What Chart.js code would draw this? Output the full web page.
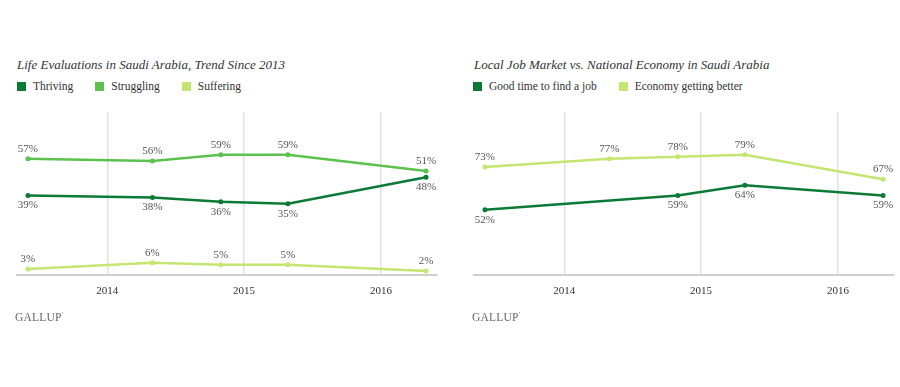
<!DOCTYPE html>
<html>
<head>
<meta charset="utf-8">
<script src="https://cdn.jsdelivr.net/npm/chart.js@4/dist/chart.umd.min.js"></script>
<style>
  body { margin: 0; background: #fff; width: 900px; height: 387px; overflow: hidden; position: relative; font-family: "Liberation Serif", serif; }
  .title { position: absolute; font-style: italic; font-size: 13px; color: #333; white-space: nowrap; }
  .legend { position: absolute; font-size: 11.5px; color: #333; white-space: nowrap; }
  .legend span.item { display: inline-block; margin-right: 22px; }
  .legend i { display: inline-block; width: 9px; height: 9px; margin-right: 7px; vertical-align: -1px; }
  .brand { position: absolute; font-size: 11.5px; color: #666; letter-spacing: 0.2px; }
  .wrap { position: absolute; top: 100px; width: 450px; height: 220px; }
</style>
</head>
<body>
<div class="title" style="left:17px; top:57px;">Life Evaluations in Saudi Arabia, Trend Since 2013</div>
<div class="legend" id="legendLeft" style="left:17px; top:80px;"></div>
<div class="wrap" style="left:0;"><canvas id="lifeChart"></canvas></div>
<div class="brand" style="left:15px; top:311px;">GALLUP<sup style="font-size:6px">&#8217;</sup></div>

<div class="title" style="left:474px; top:57px;">Local Job Market vs. National Economy in Saudi Arabia</div>
<div class="legend" id="legendRight" style="left:473px; top:80px;"></div>
<div class="wrap" style="left:450px;"><canvas id="jobChart"></canvas></div>
<div class="brand" style="left:472px; top:311px;">GALLUP<sup style="font-size:6px">&#8217;</sup></div>

<script>
// survey dates as fractional years
const surveyDates = [2013.42, 2014.33, 2014.83, 2015.32, 2016.33];
const yearTicks = [2014, 2015, 2016];

const thriving = [39, 38, 36, 35, 48];
const struggling = [57, 56, 59, 59, 51];
const suffering = [3, 6, 5, 5, 2];

const goodTimeJob = [52, null, 59, 64, 59];
const economyBetter = [73, 77, 78, 79, 67];

const DARK = "#0b7a36";
const MID = "#5cc14e";
const LIGHT = "#c3e670";

function points(values) {
    return values.map(function(v, i) {
        return {x: surveyDates[i], y: v};
    });
}

function line(label, values, color, place) {
    return {
        label: label,
        data: points(values),
        borderColor: color,
        backgroundColor: color,
        borderWidth: 2.5,
        pointRadius: 2.5,
        pointHoverRadius: 2.5,
        pointBorderWidth: 0,
        tension: 0,
        spanGaps: true,
        labelPlace: place
    };
}

// draws the "57%" style value labels next to each point
const valueLabels = {
    id: "valueLabels",
    afterDatasetsDraw(chart) {
        let ctx = chart.ctx;
        ctx.save();
        ctx.font = "11px 'Liberation Serif', serif";
        ctx.fillStyle = "#555";
        ctx.textAlign = "center";
        ctx.textBaseline = "middle";
        chart.data.datasets.forEach(function(ds, di) {
            let meta = chart.getDatasetMeta(di);
            meta.data.forEach(function(pt, i) {
                let v = ds.data[i].y;
                if (v === null || pt.skip) return;
                let dy = ds.labelPlace === "above" ? -10 : 10;
                ctx.fillText(v + "%", pt.x, pt.y + dy);
            });
        });
        ctx.restore();
    }
};

function buildLegend(id, datasets) {
    let el = document.getElementById(id);
    el.innerHTML = datasets.map(function(ds) {
        return '<span class="item"><i style="background:' + ds.borderColor + '"></i>' + ds.label + '</span>';
    }).join("");
}

function makeChart(canvasId, legendId, datasets, yMin, yMax, pad) {
    buildLegend(legendId, datasets);
    return new Chart(document.getElementById(canvasId), {
        type: "line",
        data: {datasets: datasets},
        plugins: [valueLabels],
        options: {
            responsive: true,
            maintainAspectRatio: false,
            animation: false,
            events: [],
            layout: {padding: pad},
            plugins: {
                legend: {display: false},
                title: {display: false},
                tooltip: {enabled: false}
            },
            scales: {
                x: {
                    type: "linear",
                    min: 2013.34,
                    max: 2016.41,
                    afterBuildTicks: function(scale) {
                        scale.ticks = yearTicks.map(function(v) { return {value: v}; });
                    },
                    afterFit: function(scale) { scale.height = 30; },
                    ticks: {
                        padding: 10,
                        color: "#333",
                        font: {family: "'Liberation Serif', serif", size: 11},
                        callback: function(v) { return String(v); }
                    },
                    grid: {color: "#e2e2e2", lineWidth: 1.5, drawTicks: false},
                    border: {color: "#cfcfcf", width: 2}
                },
                y: {
                    display: false,
                    min: yMin,
                    max: yMax
                }
            }
        }
    });
}

makeChart("lifeChart", "legendLeft", [
    line("Thriving", thriving, DARK, "below"),
    line("Struggling", struggling, MID, "above"),
    line("Suffering", suffering, LIGHT, "above")
], 0, 80, {top: 12, bottom: 15, left: 17, right: 13});

makeChart("jobChart", "legendRight", [
    line("Good time to find a job", goodTimeJob, DARK, "below"),
    line("Economy getting better", economyBetter, LIGHT, "above")
], 20, 100, {top: 12, bottom: 15, left: 24, right: 6});
</script>
</body>
</html>
